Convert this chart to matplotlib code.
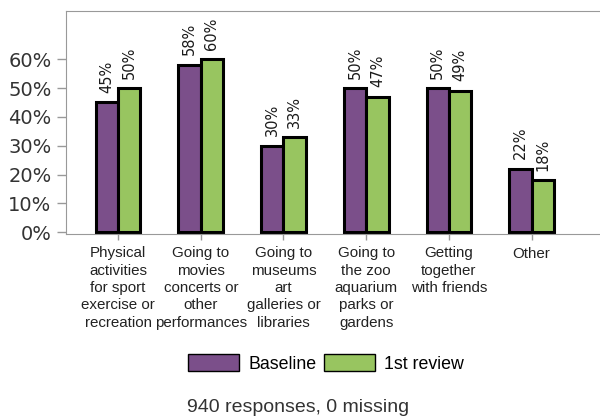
import matplotlib
matplotlib.use("Agg")
import matplotlib.pyplot as plt
import numpy as np

categories = [
    "Physical\nactivities\nfor sport\nexercise or\nrecreation",
    "Going to\nmovies\nconcerts or\nother\nperformances",
    "Going to\nmuseums\nart\ngalleries or\nlibraries",
    "Going to\nthe zoo\naquarium\nparks or\ngardens",
    "Getting\ntogether\nwith friends",
    "Other",
]
baseline = [45, 58, 30, 50, 50, 22]
review1 = [50, 60, 33, 47, 49, 18]
series_names = ["Baseline", "1st review"]
colors = ["#7b4f8a", "#98c560"]
footer = "940 responses, 0 missing"

fig = plt.figure(figsize=(6, 4.17), dpi=100)
ax = fig.add_axes([66 / 600, 1 - 234 / 417, 1 - 66 / 600 + 0.01, (234 - 11) / 417])

x = np.arange(len(categories))
w = 0.27
for i, (vals, c, name) in enumerate(zip([baseline, review1], colors, series_names)):
    pos = x + (i - 0.5) * w
    ax.bar(pos, vals, width=w, color=c, edgecolor="black", linewidth=2.2, label=name)
    for p, v in zip(pos, vals):
        ax.text(p, v + 3.3, f"{v}%", rotation=90, ha="center", va="bottom",
                fontsize=10.5, color="#1a1a1a", family="DejaVu Sans")

ax.set_xlim(-0.63, 5.9)
ax.set_ylim(-0.6, 76.7)
ax.set_yticks([0, 10, 20, 30, 40, 50, 60])
ax.set_yticklabels([f"{t}%" for t in [0, 10, 20, 30, 40, 50, 60]],
                   fontsize=14, color="#333333", family="DejaVu Sans")
ax.set_xticks(x)
ax.set_xticklabels(categories, fontsize=10.9, color="#222222", family="Liberation Sans",
                   linespacing=1.3)
ax.tick_params(axis="both", color="#999999", width=1)
ax.tick_params(axis="y", length=6.5, pad=4)
ax.tick_params(axis="x", length=4, pad=5)
for s in ["left", "top", "bottom"]:
    ax.spines[s].set_color("#999999")
ax.spines["right"].set_visible(False)

leg = fig.legend(loc="center", bbox_to_anchor=(326 / 600, 1 - 363.5 / 417), ncol=2,
                 frameon=False, prop={"family": "Liberation Sans", "size": 12.8},
                 handlelength=2.87, handleheight=1.07, columnspacing=0.45,
                 handletextpad=0.5)
for h in leg.legend_handles:
    h.set_linewidth(1)

fig.text(298 / 600, 1 - 407 / 417, footer, ha="center", va="center",
         fontsize=14, color="#333333", family="Liberation Sans")

fig.savefig("out.png", dpi=100)
